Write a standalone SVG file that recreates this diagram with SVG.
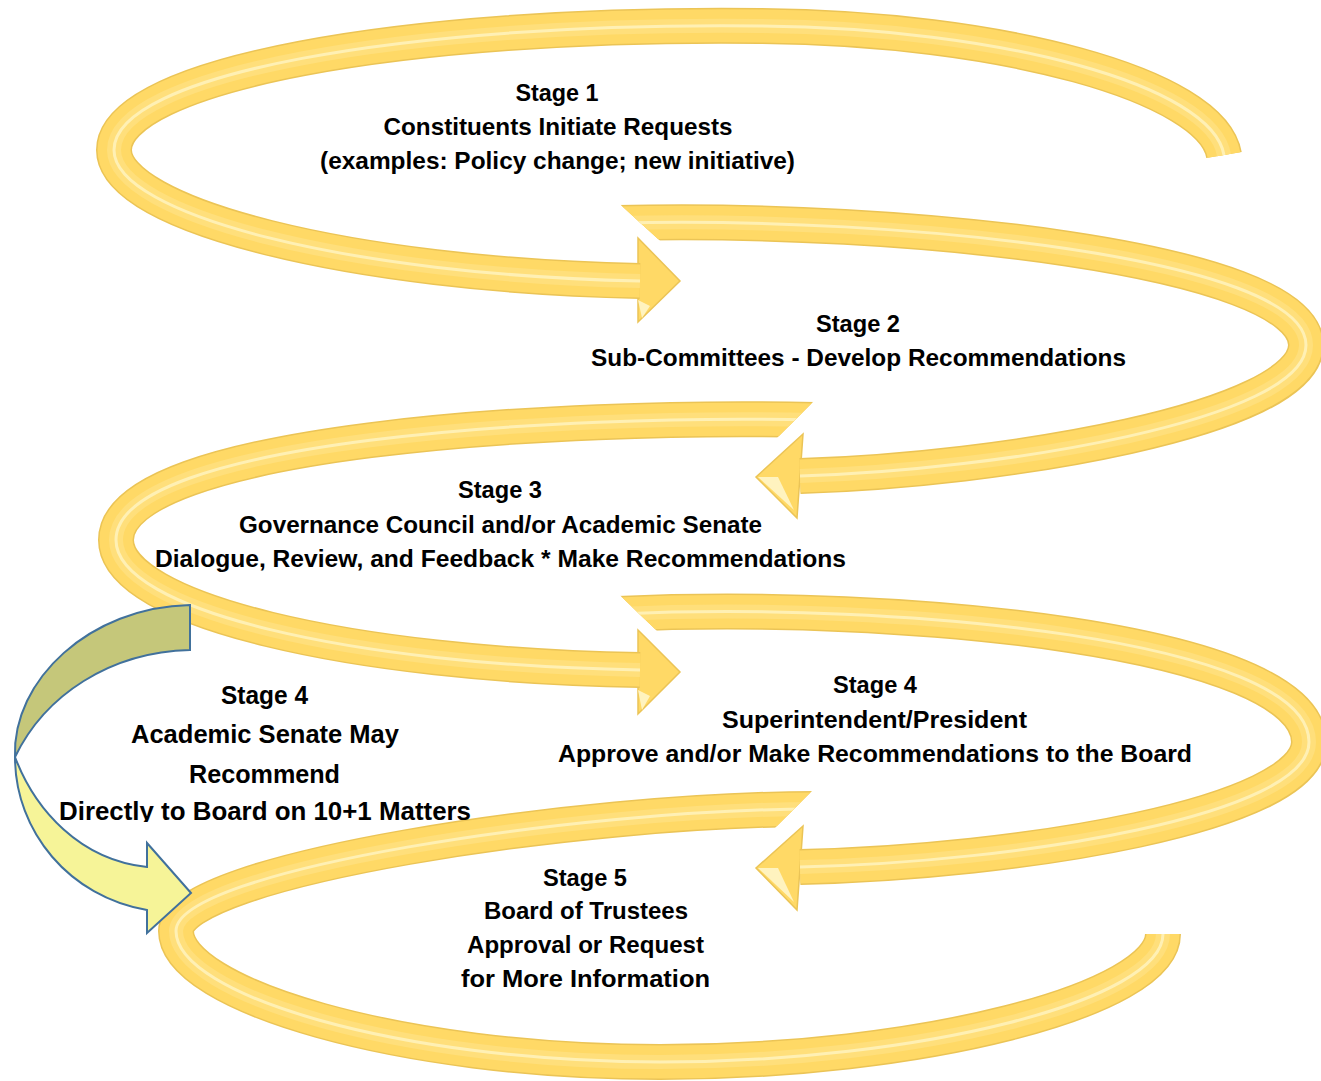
<svg xmlns="http://www.w3.org/2000/svg" width="1321" height="1081" viewBox="0 0 1321 1081">
<style>
.b0{fill:none;stroke:#EBC456;stroke-width:36}
.b1{fill:none;stroke:#FFD966;stroke-width:33}
.b2{fill:none;stroke:#FFDF7B;stroke-width:14}
.b3{fill:none;stroke:#FFF0B4;stroke-width:3}
.head{fill:#FFD966;stroke:#EBC456;stroke-width:1.5;stroke-linejoin:miter}
.facet{fill:#FFF3BF}
.t{font-family:"Liberation Sans",Arial,sans-serif;font-weight:bold;font-size:24px;fill:#000;text-anchor:middle}
.tl{font-size:25px}
.bl{stroke:#41719C;stroke-width:2;stroke-linejoin:miter}
</style>
<defs>
<path id="p1" d="M1224,155 C1212,85 1000,28 760,26 C400,22 114,75 114,150 C114,215 350,275 640,281"/>
<path id="p2" d="M618,223 C900,216 1306,258 1306,345 C1306,420 1000,470 800,476"/>
<path id="p3" d="M815,420 C560,414 116,440 116,540 C116,610 350,665 640,670"/>
<path id="p4" d="M618,614 C900,601 1309,640 1309,742 C1309,815 1020,862 800,867"/>
<path id="p5" d="M815,809 C580,809 176,870 176,931 C176,995 400,1062 660,1062 C920,1062 1163,1000 1163,934"/>
<clipPath id="c2"><polygon points="601,187 1330,187 1330,530 738,530 738,312"/></clipPath>
<clipPath id="c3"><polygon points="0,360 855,360 755,460 755,730 0,730"/></clipPath>
<clipPath id="c4"><polygon points="602,578 1330,578 1330,925 740,925 740,711"/></clipPath>
<clipPath id="c5"><polygon points="100,760 843,760 743,860 1300,860 1300,1090 100,1090"/></clipPath>
<clipPath id="ctext"><rect x="0" y="660" width="560" height="162"/></clipPath>
</defs>

<g id="connectors">
  <g id="arrow-stage1">
    <polygon class="head" points="638,238 680,281 638,322"/>
    <polygon class="facet" points="638,300 650,306 642,318"/>
    <use href="#p1" class="b0"/>
    <use href="#p1" class="b1"/>
    <use href="#p1" class="b2"/>
    <use href="#p1" class="b3"/>
  </g>
  <g id="arrow-stage2" clip-path="url(#c2)">
    <polygon class="head" points="803,434 756,477 797,518"/>
    <polygon class="facet" points="758,477 778,477 794,510"/>
    <use href="#p2" class="b0"/>
    <use href="#p2" class="b1"/>
    <use href="#p2" class="b2"/>
    <use href="#p2" class="b3"/>
  </g>
  <g id="arrow-stage3" clip-path="url(#c3)">
    <polygon class="head" points="638,630 680,672 638,714"/>
    <polygon class="facet" points="638,690 650,696 642,710"/>
    <use href="#p3" class="b0"/>
    <use href="#p3" class="b1"/>
    <use href="#p3" class="b2"/>
    <use href="#p3" class="b3"/>
  </g>
  <g id="arrow-stage4" clip-path="url(#c4)">
    <polygon class="head" points="803,826 756,868 797,910"/>
    <polygon class="facet" points="758,868 778,868 794,902"/>
    <use href="#p4" class="b0"/>
    <use href="#p4" class="b1"/>
    <use href="#p4" class="b2"/>
    <use href="#p4" class="b3"/>
  </g>
  <g id="arrow-stage5" clip-path="url(#c5)">
    <use href="#p5" class="b0"/>
    <use href="#p5" class="b1"/>
    <use href="#p5" class="b2"/>
    <use href="#p5" class="b3"/>
  </g>
  <g id="arrow-senate">
    <path class="bl" fill="#C5C77A" d="M190,605 L190,650 C110,652 45,695 15,757 C12,680 90,607 190,605 Z"/>
    <path class="bl" fill="#F6F498" d="M15,757 C15,832 70,897 147,910 L147,933 L191,893 L147,843 L147,867 C80,860 35,810 15,757 Z"/>
  </g>
</g>

<g id="stage1">
  <text class="t" x="557" y="101" textLength="83" lengthAdjust="spacingAndGlyphs">Stage 1</text>
  <text class="t" x="558" y="135" textLength="349" lengthAdjust="spacingAndGlyphs">Constituents Initiate Requests</text>
  <text class="t" x="557.5" y="169" textLength="475" lengthAdjust="spacingAndGlyphs">(examples: Policy change; new initiative)</text>
</g>
<g id="stage2">
  <text class="t" x="858" y="332" textLength="84" lengthAdjust="spacingAndGlyphs">Stage 2</text>
  <text class="t" x="858.5" y="366" textLength="535" lengthAdjust="spacingAndGlyphs">Sub-Committees - Develop Recommendations</text>
</g>
<g id="stage3">
  <text class="t" x="500" y="498" textLength="84" lengthAdjust="spacingAndGlyphs">Stage 3</text>
  <text class="t" x="500.5" y="533" textLength="523" lengthAdjust="spacingAndGlyphs">Governance Council and/or Academic Senate</text>
  <text class="t" x="500.5" y="567" textLength="691" lengthAdjust="spacingAndGlyphs">Dialogue, Review, and Feedback * Make Recommendations</text>
</g>
<g id="stage4-president">
  <text class="t" x="875" y="693" textLength="84" lengthAdjust="spacingAndGlyphs">Stage 4</text>
  <text class="t" x="874.5" y="728" textLength="305" lengthAdjust="spacingAndGlyphs">Superintendent/President</text>
  <text class="t" x="875" y="762" textLength="634" lengthAdjust="spacingAndGlyphs">Approve and/or Make Recommendations to the Board</text>
</g>
<g id="stage4-senate" clip-path="url(#ctext)">
  <text class="t tl" x="264.5" y="704" textLength="87" lengthAdjust="spacingAndGlyphs">Stage 4</text>
  <text class="t tl" x="265" y="743" textLength="268" lengthAdjust="spacingAndGlyphs">Academic Senate May</text>
  <text class="t tl" x="264.5" y="783" textLength="151" lengthAdjust="spacingAndGlyphs">Recommend</text>
  <text class="t tl" x="265" y="820" textLength="412" lengthAdjust="spacingAndGlyphs">Directly to Board on 10+1 Matters</text>
</g>
<g id="stage5">
  <text class="t" x="585" y="886" textLength="84" lengthAdjust="spacingAndGlyphs">Stage 5</text>
  <text class="t" x="586" y="919" textLength="204" lengthAdjust="spacingAndGlyphs">Board of Trustees</text>
  <text class="t" x="585.5" y="953" textLength="237" lengthAdjust="spacingAndGlyphs">Approval or Request</text>
  <text class="t" x="585.5" y="987" textLength="249" lengthAdjust="spacingAndGlyphs">for More Information</text>
</g>
</svg>
